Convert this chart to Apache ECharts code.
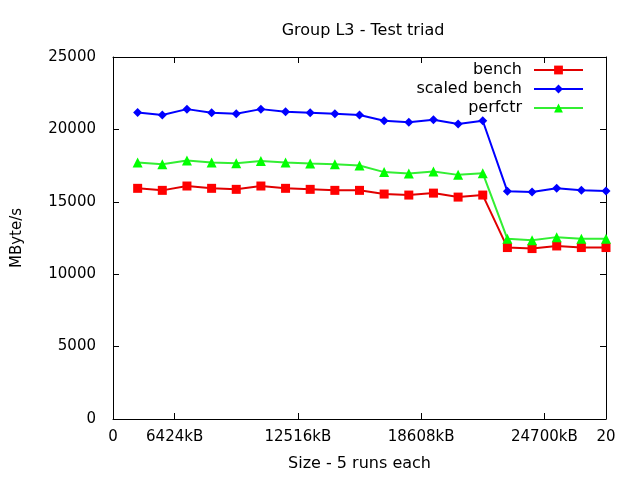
<!DOCTYPE html>
<html>
<head>
<meta charset="utf-8">
<script src="https://cdn.jsdelivr.net/npm/echarts@6/dist/echarts.min.js"></script>
<style>
  html, body { margin: 0; padding: 0; background: #fff; }
  #chart { width: 640px; height: 480px; }
</style>
</head>
<body>
<div id="chart"></div>
<script>
  // 测试点序号 1..20
  var runs = [1, 2, 3, 4, 5, 6, 7, 8, 9, 10, 11, 12, 13, 14, 15, 16, 17, 18, 19, 20]
  var bench = [15930, 15790, 16090, 15930, 15860, 16090, 15930, 15860, 15790, 15790,
    15535, 15465, 15600, 15325, 15465, 11840, 11770, 11950, 11840, 11840]
  var scaledBench = [21170, 20990, 21400, 21150, 21080, 21400, 21215, 21150, 21080, 20990,
    20600, 20500, 20665, 20370, 20600, 15720, 15670, 15930, 15790, 15740]
  var perfctr = [17720, 17600, 17860, 17720, 17670, 17810, 17720, 17650, 17600, 17510,
    17050, 16950, 17090, 16860, 16980, 12440, 12350, 12560, 12440, 12440]
  var xTickPos = [0, 2.5, 7.5, 12.5, 17.5, 20]
  var xTickText = ['0', '6424kB', '12516kB', '18608kB', '24700kB', '20']
  var yTicks = [0, 5000, 10000, 15000, 20000, 25000]

  var font = 'DejaVu Sans'

  function pairs (vals) {
    return vals.map(function (v, i) { return [runs[i], v] })
  }

  var frameLine = { show: true, onZero: false, lineStyle: { color: '#000', width: 1 } }

  var option = {
    animation: false,
    title: {
      text: 'Group L3 - Test triad',
      left: 358,
      textAlign: 'center',
      top: 18,
      textStyle: { fontFamily: font, fontSize: 16, fontWeight: 'normal', color: '#000' }
    },
    legend: [
      { name: 'bench', top: 62 },
      { name: 'scaled bench', top: 81 },
      { name: 'perfctr', top: 100 }
    ].map(function (l) {
      return {
        data: [l.name],
        right: 56,
        top: l.top,
        align: 'right',
        itemWidth: 49,
        itemHeight: 11,
        padding: 0,
        textStyle: { fontFamily: font, fontSize: 16, color: '#000', padding: [0, 7, 0, 0] }
      }
    }),
    grid: {
      left: 113,
      right: 34,
      top: 57,
      bottom: 61
    },
    xAxis: [{
      type: 'value',
      min: 0,
      max: 20,
      name: 'Size - 5 runs each',
      nameLocation: 'middle',
      nameGap: 37,
      nameTextStyle: { fontFamily: font, fontSize: 16, color: '#000' },
      axisLine: frameLine,
      axisTick: { show: true, inside: true, length: 6, customValues: [2.5, 7.5, 12.5, 17.5], lineStyle: { color: '#000' } },
      axisLabel: {
        customValues: xTickPos,
        margin: 11,
        fontFamily: font,
        fontSize: 15,
        color: '#000',
        formatter: function (v) {
          var i = xTickPos.indexOf(v)
          return i >= 0 ? xTickText[i] : ''
        }
      },
      splitLine: { show: false }
    }, {
      type: 'value',
      position: 'top',
      min: 0,
      max: 20,
      axisLine: frameLine,
      axisTick: { show: true, inside: true, length: 6, customValues: [2.5, 7.5, 12.5, 17.5], lineStyle: { color: '#000' } },
      axisLabel: { show: false },
      splitLine: { show: false }
    }],
    yAxis: [{
      type: 'value',
      min: 0,
      max: 25000,
      interval: 5000,
      name: 'MByte/s',
      nameLocation: 'middle',
      nameGap: 88,
      nameRotate: 90,
      nameTextStyle: { fontFamily: font, fontSize: 15, color: '#000' },
      axisLine: frameLine,
      axisTick: { show: true, inside: true, length: 6, lineStyle: { color: '#000' } },
      axisLabel: {
        customValues: yTicks,
        margin: 17,
        fontFamily: font,
        fontSize: 15,
        color: '#000',
        formatter: function (v) { return String(v) }
      },
      splitLine: { show: false }
    }, {
      type: 'value',
      position: 'right',
      min: 0,
      max: 25000,
      interval: 5000,
      axisLine: frameLine,
      axisTick: { show: true, inside: true, length: 6, lineStyle: { color: '#000' } },
      axisLabel: { show: false },
      splitLine: { show: false }
    }],
    series: [{
      name: 'bench',
      type: 'line',
      data: pairs(bench),
      symbol: 'rect',
      symbolSize: 9,
      lineStyle: { color: '#e00000', width: 2 },
      itemStyle: { color: '#ff0000' },
      z: 3
    }, {
      name: 'scaled bench',
      type: 'line',
      data: pairs(scaledBench),
      symbol: 'diamond',
      symbolSize: 9,
      lineStyle: { color: '#0000ff', width: 2 },
      itemStyle: { color: '#0000ff' },
      z: 3
    }, {
      name: 'perfctr',
      type: 'line',
      data: pairs(perfctr),
      symbol: 'triangle',
      symbolSize: 10,
      lineStyle: { color: '#33ee33', width: 2 },
      itemStyle: { color: '#00ff00' },
      z: 3
    }]
  }

  var chart = echarts.init(document.getElementById('chart'), null, { renderer: 'canvas' })
  chart.setOption(option)
</script>
</body>
</html>
